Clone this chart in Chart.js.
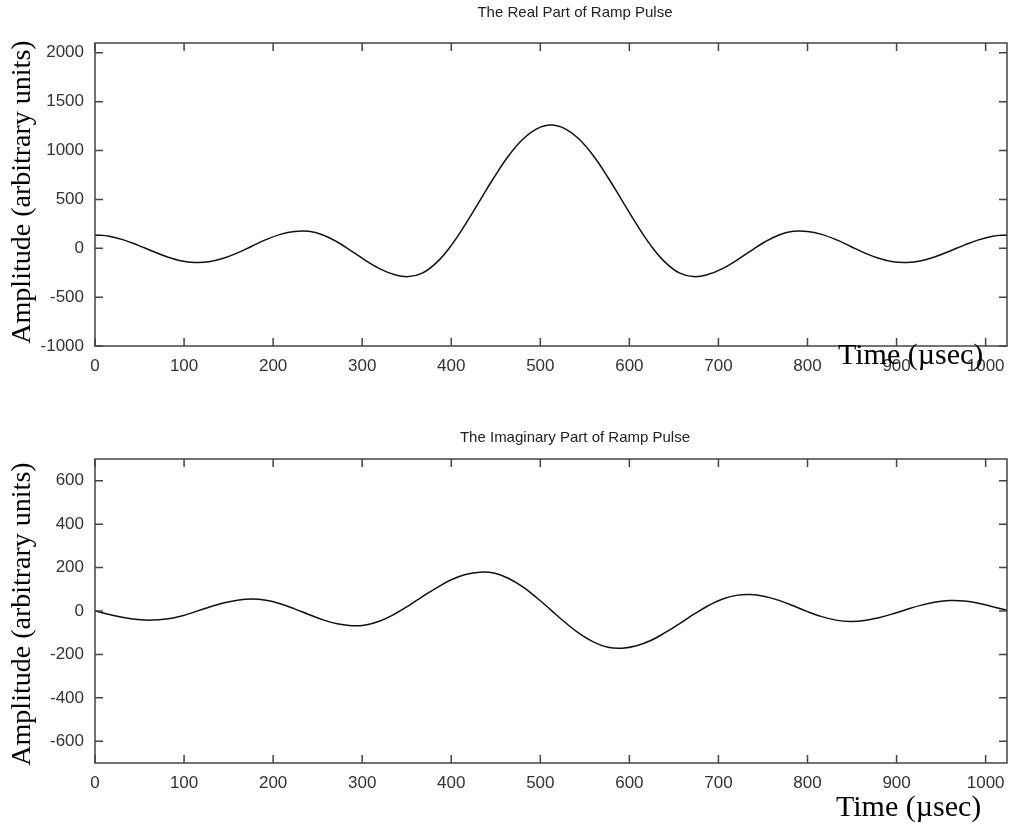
<!DOCTYPE html>
<html>
<head>
<meta charset="utf-8">
<script src="https://cdn.jsdelivr.net/npm/chart.js@4.4.0/dist/chart.umd.min.js"></script>
<style>
  body { margin: 0; background: #fff; }
  #wrap { position: relative; width: 1013px; height: 828px; overflow: hidden; }
  canvas { position: absolute; left: 0; top: 0; }
  .title { position: absolute; font-family: "Liberation Sans", Arial, sans-serif; font-size: 15px; color: #222; white-space: nowrap; transform: translateX(-50%); }
  .xlab { position: absolute; font-family: "Liberation Serif", "Times New Roman", serif; font-size: 30px; color: #000; white-space: nowrap; }
  .ylab { position: absolute; font-family: "Liberation Serif", "Times New Roman", serif; font-size: 28px; color: #000; white-space: nowrap; transform: translate(-50%, -50%) rotate(-90deg); }
</style>
</head>
<body>
<div id="wrap">
  <canvas id="realChart" width="1013" height="828"></canvas>
  <canvas id="imagChart" width="1013" height="828"></canvas>
  <div class="title" style="left:575px; top:3px;">The Real Part of Ramp Pulse</div>
  <div class="title" style="left:575px; top:428px;">The Imaginary Part of Ramp Pulse</div>
  <div class="ylab" style="left:21px; top:192px;">Amplitude (arbitrary units)</div>
  <div class="ylab" style="left:21px; top:614px;">Amplitude (arbitrary units)</div>
  <div class="xlab" style="left:838px; top:337px;">Time (µsec)</div>
  <div class="xlab" style="left:836px; top:789px;">Time (µsec)</div>
</div>
<script>
const timeUs = [0, 16, 32, 48, 64, 80, 96, 112, 128, 144, 160, 176, 192, 208, 224, 240,
  256, 272, 288, 304, 320, 336, 352, 368, 384, 400, 416, 432, 448, 464, 480, 496,
  512, 528, 544, 560, 576, 592, 608, 624, 640, 656, 672, 688, 704, 720, 736, 752,
  768, 784, 800, 816, 832, 848, 864, 880, 896, 912, 928, 944, 960, 976, 992, 1008, 1024];

const realPart = [136, 123, 86, 32, -28, -85, -127, -146, -139, -103, -47, 21, 88, 142, 172, 173,
  135, 64, -29, -126, -211, -269, -290, -252, -142, 29, 246, 485, 724, 941, 1112, 1222,
  1260, 1222, 1112, 941, 724, 485, 246, 29, -142, -252, -290, -269, -211, -126, -29, 64,
  135, 173, 172, 142, 88, 21, -47, -103, -139, -146, -127, -85, -28, 32, 86, 123, 136];

const imagPart = [0, -16, -30, -39, -42, -37, -24, -4, 17, 37, 50, 55, 49, 33, 10, -16,
  -41, -59, -68, -64, -46, -15, 24, 67, 108, 144, 168, 179, 175, 151, 112, 61,
  4, -53, -104, -143, -167, -171, -160, -136, -100, -59, -16, 23, 54, 72, 76, 67,
  49, 24, -3, -26, -42, -48, -44, -31, -13, 8, 27, 41, 48, 46, 36, 20, 3];

const xTicks = [0, 100, 200, 300, 400, 500, 600, 700, 800, 900, 1000];
const realTicks = [-1000, -500, 0, 500, 1000, 1500, 2000];
const imagTicks = [-600, -400, -200, 0, 200, 400, 600];

const axisColor = '#444';
const tickFont = { family: '"Liberation Sans", Arial, sans-serif', size: 17 };

// box round the plot area with short ticks pointing inwards on every side
const frameTicks = {
  id: 'frameTicks',
  afterDraw(chart) {
    const ctx = chart.ctx;
    const a = chart.chartArea;
    const xs = chart.scales.x, ys = chart.scales.y;
    ctx.save();
    ctx.strokeStyle = axisColor;
    ctx.lineWidth = 1.5;
    ctx.strokeRect(a.left, a.top, a.right - a.left, a.bottom - a.top);
    ctx.beginPath();
    xs.ticks.forEach(t => {
      const px = xs.getPixelForValue(t.value);
      ctx.moveTo(px, a.bottom); ctx.lineTo(px, a.bottom - 8);
      ctx.moveTo(px, a.top); ctx.lineTo(px, a.top + 8);
    });
    ys.ticks.forEach(t => {
      const py = ys.getPixelForValue(t.value);
      ctx.moveTo(a.left, py); ctx.lineTo(a.left + 8, py);
      ctx.moveTo(a.right, py); ctx.lineTo(a.right - 8, py);
    });
    ctx.stroke();
    ctx.restore();
  }
};

function makeChart(id, values, yMin, yMax, yTicks, padTop, padBottom) {
  return new Chart(document.getElementById(id), {
    type: 'line',
    data: {
      datasets: [{
        data: timeUs.map((t, i) => ({ x: t, y: values[i] })),
        borderColor: '#111',
        borderWidth: 1.5,
        pointRadius: 0,
        tension: 0.4,
        fill: false
      }]
    },
    options: {
      responsive: false,
      animation: false,
      devicePixelRatio: 1,
      layout: { autoPadding: false, padding: { left: 0, right: 6, top: padTop, bottom: padBottom } },
      plugins: { legend: { display: false }, tooltip: { enabled: false }, title: { display: false } },
      scales: {
        x: {
          type: 'linear',
          min: 0,
          max: 1024,
          afterBuildTicks: s => { s.ticks = xTicks.map(v => ({ value: v })); },
          afterFit: s => { s.height = 40; s.paddingLeft = 0; s.paddingRight = 0; },
          grid: { display: false, drawTicks: false },
          border: { display: false },
          ticks: { font: tickFont, color: '#333', padding: 10, maxRotation: 0, autoSkip: false,
                   callback: v => String(v) }
        },
        y: {
          type: 'linear',
          min: yMin,
          max: yMax,
          afterBuildTicks: s => { s.ticks = yTicks.map(v => ({ value: v })); },
          afterFit: s => { s.width = 95; s.paddingTop = 0; s.paddingBottom = 0; },
          grid: { display: false, drawTicks: false },
          border: { display: false },
          ticks: { font: tickFont, color: '#333', padding: 11, autoSkip: false,
                   callback: v => String(v) }
        }
      }
    },
    plugins: [frameTicks]
  });
}

makeChart('realChart', realPart, -1000, 2100, realTicks, 43, 828 - 346 - 40);
makeChart('imagChart', imagPart, -700, 700, imagTicks, 459, 828 - 763 - 40);
</script>
</body>
</html>
